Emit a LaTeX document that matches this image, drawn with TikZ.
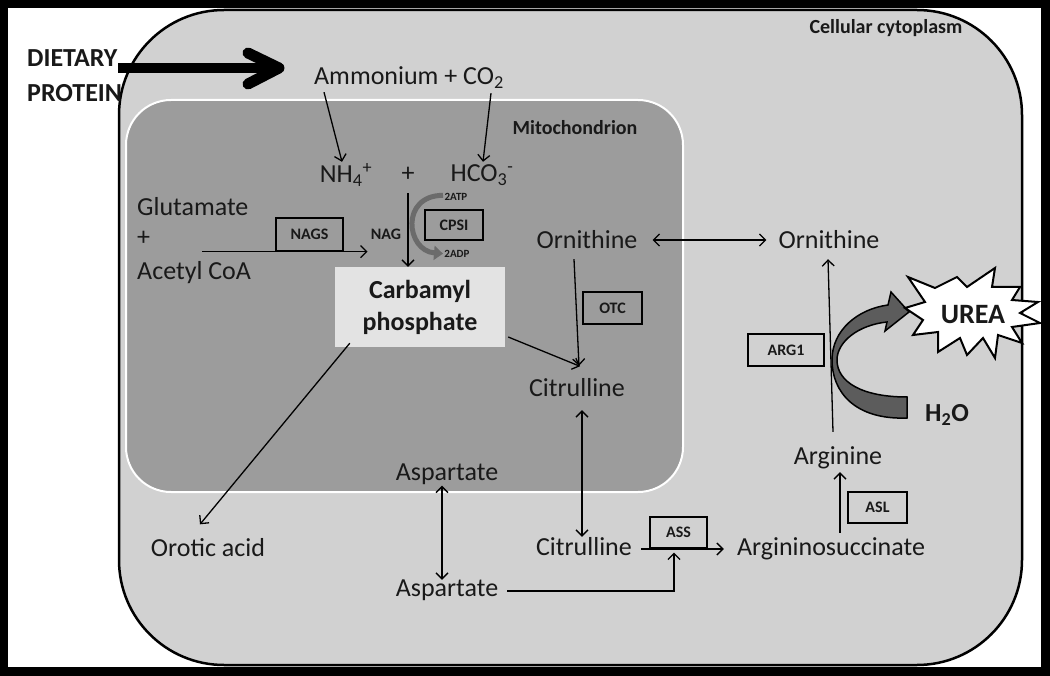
\documentclass[tikz,border=0pt]{standalone}
\usepackage{fontspec}
\setmainfont{Carlito}
\usetikzlibrary{arrows.meta}
\definecolor{cellgray}{gray}{0.82}
\definecolor{mitogray}{gray}{0.61}
\definecolor{carbgray}{gray}{0.89}
\definecolor{inkc}{gray}{0.1}
\definecolor{cpsigray}{gray}{0.42}
\definecolor{biggray}{gray}{0.36}
\begin{document}
\begin{tikzpicture}[x=1pt,y=-1pt,
  lbl/.style={font=\fontsize{26}{30}\selectfont, text=inkc, inner sep=0pt, text height=18pt, text depth=5pt},
  blbl/.style={font=\fontsize{26}{30}\selectfont\bfseries, text=inkc, inner sep=0pt},
  title/.style={font=\fontsize{20}{24}\selectfont\bfseries, text=inkc, inner sep=0pt},
  enz/.style={draw=black, line width=1.3pt, inner sep=0pt, font=\fontsize{16}{19}\selectfont\bfseries, text=inkc},
  tiny/.style={font=\fontsize{11}{13}\selectfont\bfseries, text=inkc, inner sep=0pt},
  arr/.style={draw=black, line width=1.3pt, -{Straight Barb[length=6pt,width=12pt]}},
  darr/.style={draw=black, line width=1.3pt, {Straight Barb[length=6pt,width=12pt]}-{Straight Barb[length=6pt,width=12pt]}}
]
\useasboundingbox (0,0) rectangle (1050,676);
% frame
\fill[black] (0,0) rectangle (1050,676);
\fill[white] (8,8) rectangle (1041,667);
% cell
\draw[fill=cellgray, line width=2.5pt, rounded corners=105pt] (119,10) rectangle (1022,665);
% mitochondrion
\draw[draw=white, fill=mitogray, line width=2pt, rounded corners=45pt] (126,100) rectangle (683,492);

\node[title] (cyto) at (886,28) {Cellular cytoplasm};
\node[title] (mito) at (575,128) {Mitochondrion};

% dietary protein
\node[blbl, anchor=west, align=left, font=\fontsize{26}{35}\selectfont\bfseries] (diet) at (27,76) {DIETARY\\PROTEIN};

% labels
\node[lbl] (amm) at (409,78) {Ammonium + CO\textsubscript{2}};
\node[lbl] (nh4) at (346,176) {NH\textsubscript{4}\textsuperscript{+}};
\node[lbl] (plus) at (408,175) {+};
\node[lbl] (hco) at (482,175) {HCO\textsubscript{3}\textsuperscript{-}};
\node[lbl, anchor=west] (glu) at (137,209) {Glutamate};
\node[lbl, anchor=west] (plus2) at (137,239) {+};
\node[lbl, anchor=west] (acoa) at (137,273) {Acetyl CoA};
\node[lbl] (orn1) at (587,242) {Ornithine};
\node[lbl] (orn2) at (829,242) {Ornithine};
\node[lbl] (cit1) at (577,390) {Citrulline};
\node[lbl] (cit2) at (584,549) {Citrulline};
\node[lbl] (asp1) at (447,474) {Aspartate};
\node[lbl] (asp2) at (447,590) {Aspartate};
\node[lbl] (oro) at (208,550) {Orotic acid};
\node[lbl] (agsa) at (831,549) {Argininosuccinate};
\node[lbl] (arg) at (838,458) {Arginine};

\node[fill=carbgray, inner sep=0pt, minimum width=170pt, minimum height=80pt, align=center,
      font=\fontsize{26}{32}\selectfont\bfseries, text=inkc] (carb) at (420,307) {Carbamyl\\phosphate};

% enzymes
\node[enz, minimum width=67pt, minimum height=33pt] (nags) at (309.5,234.5) {NAGS};
\node[enz, minimum width=58pt, minimum height=30pt] (cpsi) at (454,225) {CPSI};
\node[enz, minimum width=59pt, minimum height=32pt] (otc) at (612.5,308) {OTC};
\node[enz, minimum width=57pt, minimum height=31pt] (ass) at (678.5,532.5) {ASS};
\node[enz, minimum width=59pt, minimum height=31pt] (asl) at (877.5,507.5) {ASL};
\node[enz, minimum width=76pt, minimum height=32pt] (arg1) at (786,350) {ARG1};

\node[font=\fontsize{16}{19}\selectfont\bfseries, text=inkc, inner sep=0pt] (nag) at (386,234) {NAG};
\node[tiny] (atp) at (456,197) {2ATP};
\node[tiny] (adp) at (457,254) {2ADP};

% dietary arrow
\draw[line width=10pt] ([shift={(91,-8)}]diet.west) -- ([shift={(-35,-10)}]amm.west);
\draw[line width=11pt, line cap=round, line join=round] ([shift={(-66,-25)}]amm.west) -- ([shift={(-35,-10)}]amm.west) -- ([shift={(-66,6)}]amm.west);

% arrows
\draw[arr] ([shift={(-85,2.5)}]amm.south) -- ([shift={(-4,-2.5)}]nh4.north);
\draw[arr] ([shift={(82,3.5)}]amm.south) -- ([shift={(1,-1.5)}]hco.north);
\draw[arr] ([shift={(0,6.5)}]plus.south) -- ([shift={(-12,0)}]carb.north);
\draw[line width=5pt, cpsigray, -{Triangle[length=9pt,width=14pt]}]
  ([shift={(-11,-14)}]cpsi.north) .. controls +(-43,0) and +(-37,-3) .. ([shift={(-11,13)}]cpsi.south);
\draw[arr] ([shift={(-107.5,0)}]nags.south) -- ([shift={(58,0)}]nags.south);
\draw[arr] ([shift={(15,-4)}]carb.south west) -- ([shift={(-8,-14)}]oro.north);
\draw[arr] ([shift={(3,30)}]carb.east) -- ([shift={(3,-12)}]cit1.north);
\draw[arr] ([shift={(-13,5.5)}]orn1.south) -- ([shift={(2,-12.5)}]cit1.north);
\draw[darr] ([shift={(15,-2)}]orn1.east) -- ([shift={(-12,-2)}]orn2.west);
\draw[darr] ([shift={(5,8.5)}]cit1.south) -- ([shift={(-2,-0.5)}]cit2.north);
\draw[darr] ([shift={(-5,0)}]asp1.south) -- ([shift={(-5,1.5)}]asp2.north);
\draw[arr] ([shift={(9,0)}]cit2.east) -- ([shift={(-13,0)}]agsa.west);
\draw[arr] ([shift={(9,1)}]asp2.east) -| ([shift={(-4.5,4)}]ass.south);
\draw[arr] ([shift={(9,-4.5)}]agsa.north) -- ([shift={(2,2.5)}]arg.south);
\draw[arr] ([shift={(-5,-14.5)}]arg.north) -- ([shift={(-1,5.5)}]orn2.south);

% big curved arrow to urea
\filldraw[fill=biggray, draw=black, line width=1.5pt, line join=miter]
  (907,418) .. controls (855,420) and (832,392) .. (832,360)
  .. controls (832,330) and (858,309) .. (888,305)
  -- (891,292) -- (909,312) -- (885,331) -- (887,322)
  .. controls (858,325) and (837,342) .. (837,360)
  .. controls (837,382) and (862,397) .. (907,397) -- cycle;
\node[blbl] (h2o) at (947,415) {H\textsubscript{2}O};

% urea starburst
\filldraw[fill=white, draw=black, line width=2pt, line join=miter]
  (908,277) -- (935,288) -- (957,277) -- (967,287) -- (995,268) -- (992,287) -- (1020,287)
  -- (1012,300) -- (1038,302) -- (1020,313) -- (1040,323) -- (1012,327) -- (1022,343)
  -- (998,335) -- (995,358) -- (983,338) -- (967,355) -- (960,338) -- (938,352)
  -- (938,332) -- (913,335) -- (923,320) -- (905,308) -- (925,302) -- cycle;
\node[font=\fontsize{28}{32}\selectfont\bfseries, text=inkc, inner sep=0pt] (urea) at (973,315) {UREA};
\end{tikzpicture}
\end{document}
